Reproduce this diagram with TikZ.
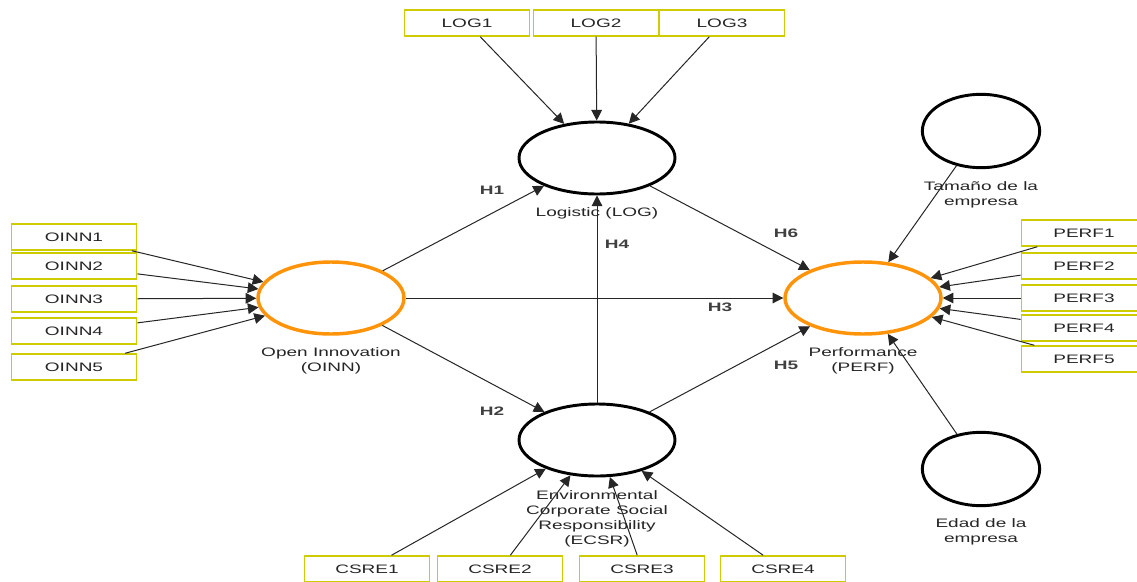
\documentclass[tikz,border=0pt]{standalone}
\usepackage{fontspec}
\setmainfont{Liberation Sans}[FakeStretch=1.55]
\usetikzlibrary{shapes.geometric,arrows.meta}
\definecolor{boxyellow}{RGB}{204,204,0}
\definecolor{latorange}{RGB}{255,148,10}
\begin{document}
\begin{tikzpicture}[x=0.75pt,y=-0.75pt,
  ind/.style={draw=boxyellow, line width=1.1pt, minimum width=94pt, minimum height=19.5pt, inner sep=0pt, text=black!85, font=\fontsize{9.2}{10}\selectfont},
  lat/.style={ellipse, draw=black, line width=2.2pt, inner sep=0pt},
  latO/.style={lat, draw=latorange, line width=2.6pt},
  lbl/.style={align=center, text=black!85, inner sep=0pt, font=\fontsize{9.2}{11.2}\selectfont},
  hyp/.style={text=black!75, inner sep=0pt, font=\fontsize{9.2}{10}\selectfont\bfseries},
  arr/.style={-{Triangle[length=8pt,width=8pt]}, draw=black!85, line width=0.75pt}]
\useasboundingbox[fill=white] (0,0) rectangle (1137,581);
% latent variables
\node[lat, minimum width=117pt, minimum height=54pt] (log) at (597,158) {};
\node[lat, minimum width=117pt, minimum height=54pt] (ecsr) at (597,440) {};
\node[latO, minimum width=109.5pt, minimum height=54pt] (oinn) at (331,298) {};
\node[latO, minimum width=117pt, minimum height=54pt] (perf) at (863,298) {};
\node[lat, minimum width=88pt, minimum height=55pt] (tam) at (981,131) {};
\node[lat, minimum width=88pt, minimum height=55pt] (edad) at (981,469) {};
% labels
\node[lbl] (llog) at (597,213) {Logistic (LOG)};
\node[lbl] (loinn) at (331,360.5) {Open Innovation\\(OINN)};
\node[lbl] (lperf) at (863,360.5) {Performance\\(PERF)};
\node[lbl] (ltam) at (981,194.5) {Tamaño de la\\empresa};
\node[lbl] (ledad) at (981,532) {Edad de la\\empresa};
\node[lbl] (lecsr) at (597,519) {Environmental\\Corporate Social\\Responsibility\\(ECSR)};
% indicators
\node[ind] (log1) at (467,23) {LOG1};
\node[ind] (log2) at (596,23) {LOG2};
\node[ind] (log3) at (722,23) {LOG3};
\node[ind] (oinn1) at (74,237) {OINN1};
\node[ind] (oinn2) at (74,266) {OINN2};
\node[ind] (oinn3) at (74,299) {OINN3};
\node[ind] (oinn4) at (74,331) {OINN4};
\node[ind] (oinn5) at (74,367) {OINN5};
\node[ind] (perf1) at (1084,233) {PERF1};
\node[ind] (perf2) at (1084,266) {PERF2};
\node[ind] (perf3) at (1084,298) {PERF3};
\node[ind] (perf4) at (1084,328) {PERF4};
\node[ind] (perf5) at (1084,359) {PERF5};
\node[ind] (csre1) at (367,569) {CSRE1};
\node[ind] (csre2) at (500,569) {CSRE2};
\node[ind] (csre3) at (642,569) {CSRE3};
\node[ind] (csre4) at (783,569) {CSRE4};
% indicator arrows
\foreach \s in {log1,log2,log3} \draw[arr] (\s) -- (log);
\foreach \s in {oinn1,oinn2,oinn3,oinn4,oinn5} \draw[arr] (\s) -- (oinn);
\foreach \s in {perf1,perf2,perf3,perf4,perf5} \draw[arr] (\s) -- (perf);
\foreach \s in {csre1,csre2,csre3,csre4} \draw[arr] (\s) -- (ecsr);
\draw[arr] (tam) -- (perf);
\draw[arr] (edad) -- (perf);
% structural paths
\draw[arr] (oinn) -- (log);
\draw[arr] (oinn) -- (ecsr);
\draw[arr] (oinn) -- (perf);
\draw[arr] (ecsr) -- (log);
\draw[arr] (ecsr) -- (perf);
\draw[arr] (log) -- (perf);
% hypothesis labels
\node[hyp] (h1) at (492,190) {H1};
\node[hyp] (h2) at (492,411) {H2};
\node[hyp] (h3) at (720,307) {H3};
\node[hyp] (h4) at (617,244) {H4};
\node[hyp] (h5) at (786,365) {H5};
\node[hyp] (h6) at (786,233) {H6};
\end{tikzpicture}
\end{document}
